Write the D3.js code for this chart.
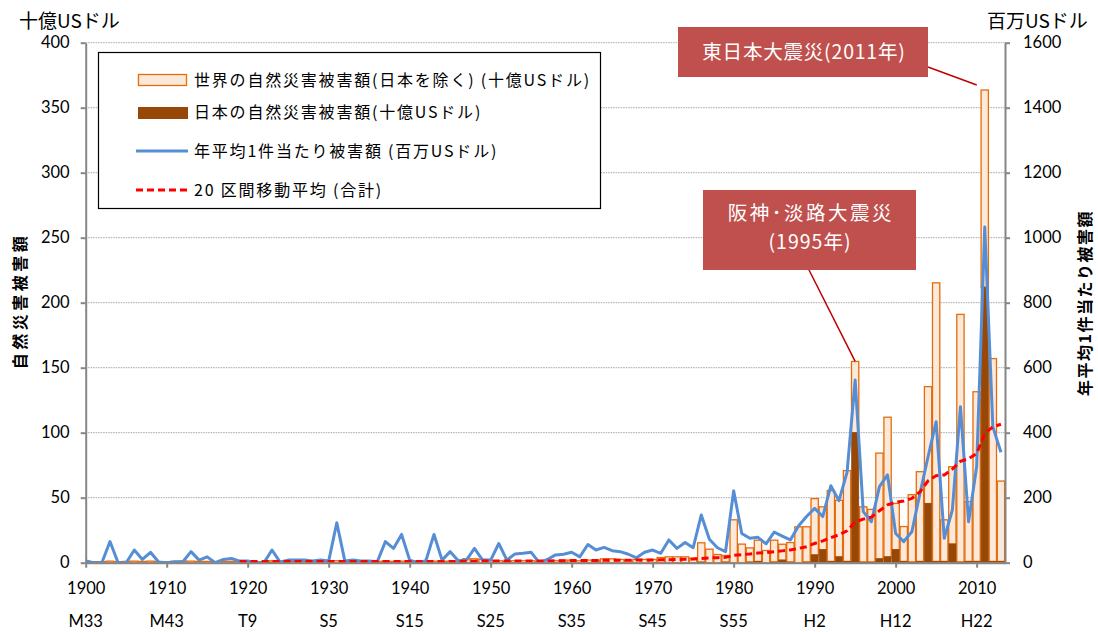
<!DOCTYPE html>
<meta charset="utf-8">
<script src="https://d3js.org/d3.v7.min.js"></script>
<style>
  body { margin: 0; background: #fff; }
  text { font-family: "Noto Sans CJK JP", sans-serif; fill: #000; }
  .num text, text.num { font-family: Lato, "Noto Sans CJK JP", sans-serif; }
</style>
<div id="chart"></div>
<script>

// categories: 1900 .. 2013
var firstYear = 1900, lastYear = 2013;
var years = d3.range(firstYear, lastYear + 1);

// world total damage = world excluding Japan + Japan (billion USD)
var totalDamage = [
  1, 0.8, 0.8, 1.2, 0.8, 1, 1.2, 1, 1.2, 0.8,
  0.8, 1, 1.2, 1.2, 1, 1, 0.8, 1, 1, 1,
  1, 0.8, 0.8, 1.5, 1, 1, 1, 1, 1, 1,
  1, 1.5, 1, 1, 1, 1, 1, 1.2, 1, 1.2,
  1, 0.8, 1, 1.2, 1, 1.2, 1.2, 3, 3, 2.5,
  1.5, 1.5, 1, 1.5, 1.5, 1.5, 1, 1.5, 1.5, 2,
  2, 1.5, 2, 2, 3, 3, 2.5, 2, 2.5, 2.5,
  2.5, 4, 4.5, 4.5, 4.5, 3.5, 15.3, 10.4, 6.3, 5.6,
  33, 14.3, 11.4, 17.3, 9.4, 17.3, 14.2, 15.5, 27.6, 27.6,
  49.3, 43, 55.5, 48, 70.8, 154.8, 43, 41, 84.3, 111.9,
  45.6, 27.8, 52.3, 70, 135.4, 215.3, 33, 73.8, 191, 47,
  131.5, 363.6, 157, 62.8
];

// Japan damage (billion USD)
var japanDamage = [
  0, 0, 0, 0, 0, 0, 0, 0, 0, 0,
  0, 0, 0, 0, 0, 0, 0, 0, 0, 0,
  0, 0, 0, 0.3, 0, 0, 0, 0, 0, 0,
  0, 0, 0, 0, 0, 0, 0, 0, 0, 0,
  0, 0, 0, 0, 0, 0, 0, 0, 0, 0,
  0, 0, 0, 0, 0, 0, 0, 0, 0, 0.3,
  0, 0, 0, 0, 0, 0, 0, 0, 0, 0,
  0, 0, 0, 0, 0, 0, 0.5, 0, 0, 0.5,
  0, 0, 0.5, 1, 0, 0.5, 2, 0.5, 0, 0.5,
  6, 10, 1, 4.5, 1, 100, 0.5, 0.5, 3, 4.5,
  10, 1, 0.5, 1, 45.5, 1, 1, 14.4, 0.5, 1,
  1, 212, 1, 1
];

// yearly average damage per disaster (million USD, right axis)
var perEvent = [
  5, 0, 0, 65, 0, 0, 39, 10, 32, 2,
  0, 3, 3, 34, 8, 18, 0, 10, 13, 5,
  5, 0, 0, 39, 2, 8, 8, 8, 5, 8,
  5, 123, 5, 8, 5, 5, 3, 65, 44, 87,
  8, 0, 6, 87, 8, 34, 6, 8, 44, 8,
  8, 59, 8, 27, 29, 32, 0, 10, 24, 26,
  32, 18, 56, 39, 47, 37, 34, 26, 15, 32,
  39, 29, 70, 44, 62, 46, 147, 72, 46, 34,
  221, 90, 75, 78, 58, 94, 82, 70, 113, 142,
  167, 142, 237, 191, 278, 562, 157, 126, 234, 270,
  90, 65, 95, 213, 326, 434, 75, 162, 480, 126,
  295, 1033, 418, 340
];

// 20-year moving average of the total (billion USD), 1919 .. 2013
var movingAvgStart = 1919;
var movingAvg = [
  1, 1, 1, 1, 1, 1, 1, 1, 1, 1, 1,
  1, 1, 1, 1, 1, 1, 1, 1, 1, 1,
  1, 1, 1, 1, 1, 1, 1, 1.1, 1.2, 1.3,
  1.3, 1.3, 1.3, 1.3, 1.3, 1.4, 1.4, 1.4, 1.5, 1.5,
  1.6, 1.6, 1.6, 1.7, 1.8, 1.9, 1.9, 1.9, 2, 2,
  2, 2.2, 2.3, 2.5, 2.6, 2.8, 3.3, 3.7, 3.9, 4.1,
  5.6, 6.2, 6.7, 7.4, 7.8, 8.5, 9.1, 9.8, 11, 12.2,
  14.8, 16.8, 19.2, 21.5, 24.5, 31.5, 33.5, 35, 40, 44.5,
  46.5, 47.5, 49.5, 54.5, 63, 67, 67.5, 72, 78, 80,
  84, 99.5, 104.5, 106.5
];

// tick labels
var leftTicks = [0, 50, 100, 150, 200, 250, 300, 350, 400];
var rightTicks = [0, 200, 400, 600, 800, 1000, 1200, 1400, 1600];
var decadeTicks = [1900, 1910, 1920, 1930, 1940, 1950, 1960, 1970, 1980, 1990, 2000, 2010];
var eraLabels = ["M33", "M43", "T9", "S5", "S15", "S25", "S35", "S45", "S55", "H2", "H12", "H22"];

var legendLabels = [
  "世界の自然災害被害額(日本を除く) (十億USドル)",
  "日本の自然災害被害額(十億USドル)",
  "年平均1件当たり被害額 (百万USドル)",
  "20 区間移動平均 (合計)"
];

var data = years.map(function(y, i) {
  return { year: y, total: totalDamage[i], japan: japanDamage[i], avg: perEvent[i] };
});
var maData = movingAvg.map(function(v, i) { return { year: movingAvgStart + i, value: v }; });

// dimensions
var W = 1098, H = 632;
var plotLeft = 85.7, plotRight = 1005, plotTop = 42.7, plotBottom = 562.7;

var svg = d3.select("#chart").append("svg")
  .attr("width", W).attr("height", H);

var x = d3.scaleLinear().domain([firstYear, lastYear + 0.5]).range([plotLeft, plotRight]);
var yL = d3.scaleLinear().domain([0, 400]).range([plotBottom, plotTop]);
var yR = d3.scaleLinear().domain([0, 1600]).range([plotBottom, plotTop]);
var barW = 7.3;

var axisColor = "#868686";

// grid
svg.append("g").selectAll("line")
  .data(leftTicks.slice(1))
  .enter().append("line")
    .attr("x1", plotLeft).attr("x2", plotRight)
    .attr("y1", function(d) { return yL(d) }).attr("y2", function(d) { return yL(d) })
    .attr("stroke", "#a6a6a6").attr("stroke-width", 1)
    .attr("stroke-dasharray", "1.5,1");

svg.append("clipPath").attr("id", "plotclip")
  .append("rect").attr("x", plotLeft).attr("y", 0)
  .attr("width", plotRight - plotLeft).attr("height", plotBottom);

var plot = svg.append("g").attr("clip-path", "url(#plotclip)");

// world bars (stacked above Japan)
plot.append("g").selectAll("rect")
  .data(data)
  .enter().append("rect")
    .attr("x", function(d) { return x(d.year) - barW / 2 })
    .attr("width", barW)
    .attr("y", function(d) { return yL(d.total) })
    .attr("height", function(d) { return yL(d.japan) - yL(d.total) })
    .attr("fill", "#fde9d9")
    .attr("stroke", "#e46c0a")
    .attr("stroke-width", 1.3);

// Japan bars
plot.append("g").selectAll("rect")
  .data(data.filter(function(d) { return d.japan > 0 }))
  .enter().append("rect")
    .attr("x", function(d) { return x(d.year) - barW / 2 })
    .attr("width", barW)
    .attr("y", function(d) { return yL(d.japan) })
    .attr("height", function(d) { return yL(0) - yL(d.japan) })
    .attr("fill", "#974706")
    .attr("stroke", "#974706")
    .attr("stroke-width", 0.6);

// per-event line
plot.append("path")
  .datum(data)
  .attr("fill", "none")
  .attr("stroke", "#558ed5")
  .attr("stroke-width", 3)
  .attr("stroke-linejoin", "round")
  .attr("d", d3.line()
    .x(function(d) { return x(d.year) })
    .y(function(d) { return yR(d.avg) }));

// moving average
plot.append("path")
  .datum(maData)
  .attr("fill", "none")
  .attr("stroke", "#ff0000")
  .attr("stroke-width", 3)
  .attr("stroke-dasharray", "7,4")
  .attr("d", d3.line()
    .x(function(d) { return x(d.year) })
    .y(function(d) { return yL(d.value) }));

// axes
var leftAxis = svg.append("g").attr("class", "num")
  .attr("transform", "translate(" + plotLeft + ",0)")
  .call(d3.axisLeft(yL).tickValues(leftTicks).tickSize(5).tickSizeOuter(0).tickPadding(11));
var rightAxis = svg.append("g").attr("class", "num")
  .attr("transform", "translate(" + plotRight + ",0)")
  .call(d3.axisRight(yR).tickValues(rightTicks).tickFormat(d3.format("d"))
    .tickSize(5).tickSizeOuter(0).tickPadding(13));
var bottomAxis = svg.append("g").attr("class", "num")
  .attr("transform", "translate(0," + plotBottom + ")")
  .call(d3.axisBottom(x).tickValues(decadeTicks).tickFormat(d3.format("d"))
    .tickSize(5).tickSizeOuter(0).tickPadding(15));

[leftAxis, rightAxis, bottomAxis].forEach(function(a) {
  a.select(".domain").attr("stroke", axisColor).attr("stroke-width", 2);
  a.selectAll(".tick line").attr("stroke", axisColor).attr("stroke-width", 2);
  a.selectAll(".tick text").attr("font-size", 16.5).attr("fill", "#000");
});

// era labels
svg.append("g").selectAll("text")
  .data(eraLabels)
  .enter().append("text")
    .attr("class", "num")
    .attr("x", function(d, i) { return x(decadeTicks[i]) })
    .attr("y", 627)
    .attr("text-anchor", "middle")
    .attr("font-size", 16.5)
    .text(function(d) { return d });

// units and axis titles
svg.append("text").attr("x", 19).attr("y", 28).attr("font-size", 19).text("十億USドル");
svg.append("text").attr("x", 987).attr("y", 28).attr("font-size", 19).text("百万USドル");

svg.append("text")
  .attr("transform", "translate(26,301) rotate(-90)")
  .attr("text-anchor", "middle")
  .attr("font-size", 16).attr("font-weight", "bold")
  .attr("letter-spacing", 3.5)
  .text("自然災害被害額");
svg.append("text")
  .attr("transform", "translate(1091,303) rotate(-90)")
  .attr("text-anchor", "middle")
  .attr("font-size", 16).attr("font-weight", "bold")
  .attr("letter-spacing", 1.5)
  .text("年平均1件当たり被害額");

// legend
var legend = svg.append("g");
legend.append("rect")
  .attr("x", 98.5).attr("y", 52.5).attr("width", 502).attr("height", 156)
  .attr("fill", "#fff").attr("stroke", "#000").attr("stroke-width", 1.2);
var rowY = [80, 112, 151, 190];
legend.append("rect").attr("x", 138.5).attr("y", 74.5).attr("width", 48).attr("height", 11)
  .attr("fill", "#fde9d9").attr("stroke", "#e46c0a").attr("stroke-width", 1.3);
legend.append("rect").attr("x", 138).attr("y", 107).attr("width", 50).attr("height", 12)
  .attr("fill", "#974706");
legend.append("line").attr("x1", 136).attr("x2", 188).attr("y1", rowY[2]).attr("y2", rowY[2])
  .attr("stroke", "#558ed5").attr("stroke-width", 3);
legend.append("line").attr("x1", 136).attr("x2", 188).attr("y1", rowY[3]).attr("y2", rowY[3])
  .attr("stroke", "#ff0000").attr("stroke-width", 3).attr("stroke-dasharray", "7,4");
legend.selectAll("text.lab")
  .data(legendLabels)
  .enter().append("text")
    .attr("class", "lab")
    .attr("x", 194)
    .attr("y", function(d, i) { return rowY[i] })
    .attr("dy", "0.35em")
    .attr("font-size", 16)
    .attr("letter-spacing", 1.8)
    .text(function(d) { return d });

// annotations
var noteColor = "#c0504d";
var i2011 = years.indexOf(2011), i1995 = years.indexOf(1995);

svg.append("line")
  .attr("x1", 928).attr("y1", 67)
  .attr("x2", x(2011) - 8).attr("y2", yL(totalDamage[i2011]) - 5)
  .attr("stroke", "#c00000").attr("stroke-width", 1.5);
svg.append("rect").attr("x", 678).attr("y", 27).attr("width", 250).attr("height", 50)
  .attr("fill", noteColor);
svg.append("text").attr("x", 804).attr("y", 52).attr("dy", "0.35em")
  .attr("text-anchor", "middle").attr("font-size", 19.5).attr("letter-spacing", 0.8)
  .style("fill", "#fff")
  .text("東日本大震災(2011年)");

svg.append("line")
  .attr("x1", 806).attr("y1", 264)
  .attr("x2", x(1995)).attr("y2", yL(totalDamage[i1995]))
  .attr("stroke", "#c00000").attr("stroke-width", 1.5);
svg.append("rect").attr("x", 703).attr("y", 190).attr("width", 213).attr("height", 80)
  .attr("fill", noteColor);
svg.append("text").attr("x", 811).attr("y", 213).attr("dy", "0.35em")
  .attr("text-anchor", "middle").attr("font-size", 19.5).attr("letter-spacing", 2.5)
  .style("fill", "#fff")
  .text("阪神･淡路大震災");
svg.append("text").attr("x", 810).attr("y", 242).attr("dy", "0.35em")
  .attr("text-anchor", "middle").attr("font-size", 19.5).attr("letter-spacing", 1)
  .style("fill", "#fff")
  .text("(1995年)");

</script>
